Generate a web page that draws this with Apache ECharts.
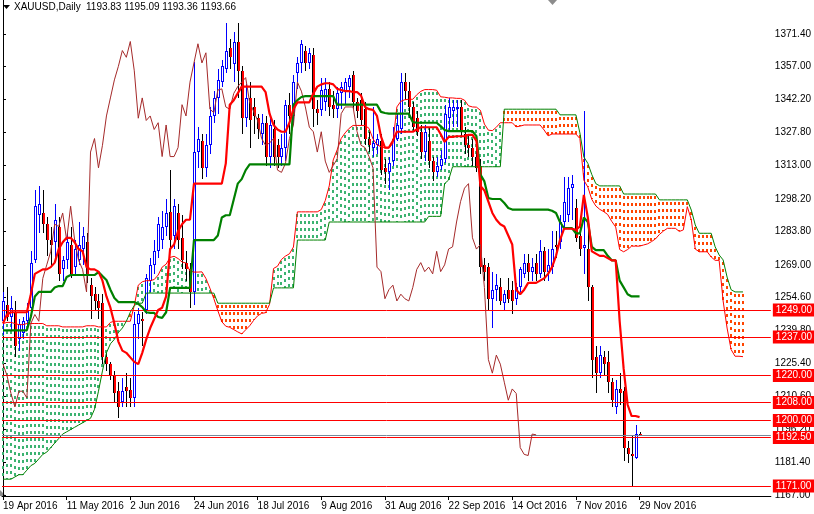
<!DOCTYPE html>
<html><head><meta charset="utf-8">
<script src="https://cdn.jsdelivr.net/npm/echarts@6/dist/echarts.min.js"></script>
<style>html,body{margin:0;padding:0;background:#fff}#c{width:814px;height:514px}</style>
</head><body><div id="c"></div><script>
// ---- data ----
const dateLabels = ['19 Apr 2016','11 May 2016','2 Jun 2016','24 Jun 2016','18 Jul 2016','9 Aug 2016','31 Aug 2016','22 Sep 2016','14 Oct 2016','7 Nov 2016','29 Nov 2016'];
const labelIdx = [0,16,32,48,64,80,96,112,128,144,160];
const priceTicks = [1167.00,1181.40,1196.20,1210.60,1225.40,1239.80,1254.60,1269.00,1283.80,1298.20,1313.00,1327.80,1342.20,1357.00,1371.40];
const levels = [1249.00,1237.00,1220.00,1208.00,1200.00,1192.50,1171.00];
const bidPrice = 1193.66;
const titleText = 'XAUUSD,Daily';
const titleValues = '1193.83 1195.09 1193.36 1193.66';

const opens = [1244,1251,1246,1248,1236,1239,1244,1250,1271,1291,
1292,1287,1280,1279,1286,1267,1271,1278,1268,1271,
1276,1279,1260,1256,1253,1252,1228,1225,1220,1213,
1208,1215,1213.5,1210,1243,1245,1249,1262,1269,1275,
1280,1286,1292.4,1282,1292,1281,1270,1267,1257,1319,
1324,1312,1322,1335,1343,1350,1356,1365,1358,1368,
1355,1334,1343,1339,1334,1327,1332,1317,1329,1322,
1317,1321,1340,1335,1354,1358.5,1364,1358.5,1362,1338,
1337.7,1341,1347,1340,1338,1345,1346,1348,1353,1341,
1342,1338,1325,1321,1322,1324,1312,1310,1315,1325,
1329,1350,1346,1339,1334,1328,1319,1324,1315,1310,
1313,1316,1334,1337,1338,1339,1327,1322,1321,1317,
1313,1269,1268,1254,1258,1259,1252,1258,1258,1254,
1259,1265,1270,1266,1270,1265,1275,1266,1268,1278,
1279,1288,1291,1303,1294,1282,1276.5,1276,1259,1228,
1221,1228,1226,1217,1206,1214,1213,1188,1185,1183.5,
1193.83];
const highs = [1257,1259,1255,1253,1245,1246,1252,1275,1302,1304,
1302,1290,1286,1296,1290,1273,1283,1286,1280,1288,
1286,1283,1263,1259,1256,1256,1230,1226,1222,1217,
1219,1221,1219,1248,1250,1248,1265,1272,1280,1290,
1293,1298,1311,1298,1296,1291,1275,1270,1359,1330,
1327,1327,1339,1346,1356,1360,1376,1369,1372,1376,
1357,1349,1350,1343,1336,1336,1335,1336,1333,1325,
1327,1342,1345,1353,1361,1368.5,1366,1365,1365,1342,
1352,1352,1350,1346,1348,1350,1352,1353,1355,1343,
1345,1341,1328,1339,1327,1327,1316,1317,1330,1336,
1354,1354,1350,1341,1337,1331,1331,1330,1317,1317,
1320,1340,1343,1342,1342,1342,1330,1326,1325,1324,
1316,1272,1270,1266,1265,1263,1258,1263,1262,1261,
1268,1274,1274,1272,1274,1280,1277,1276,1284,1284,
1291,1308,1308,1309,1298,1288,1337,1286,1260,1233,
1233,1231,1231,1219,1218,1221,1215,1191,1193,1198,
1195.09];
const lows = [1238,1244,1240,1228,1231,1236,1242,1248,1270,1283,
1283,1273,1268,1272,1262,1262,1267,1263,1265,1269,
1269,1261,1245,1249,1245,1225,1222,1218,1208,1201,
1206,1206,1206,1206,1236,1233,1247,1257,1265,1272,
1276,1282,1276,1276,1276,1267,1262,1250,1251,1312,
1307,1308,1318,1332,1336,1348,1354,1356,1350,1343,
1327,1330,1321,1327,1325,1322,1313,1312,1313,1312,
1313,1315,1327,1331,1347,1354,1355,1356,1330,1331,
1335,1337,1335,1334,1334,1338,1340,1343,1338,1334,
1331,1322,1319,1317,1318,1309,1305,1302,1313,1324,
1327,1342,1334,1328,1326,1316,1315,1312,1306,1308,
1311,1314,1328,1330,1330,1326,1318,1317,1313,1310,
1265,1262,1249,1241,1253,1251,1249,1252,1247,1251,
1257,1263,1262,1262,1262,1263,1262,1262,1265,1272,
1276,1286,1288,1289,1279,1273,1265,1253,1219,1212,
1219,1220,1212,1206,1203,1207,1182,1181,1171,1183,
1193.36];
const closes = [1253,1246,1250,1233,1243,1244,1249,1270,1295,1296,
1287,1280,1278,1289,1265,1271,1279,1264,1276,1278,
1282,1265,1255,1253,1250,1228,1225,1220,1212,1206,
1213,1213,1210,1243,1247,1244,1263,1269,1275,1287,
1286,1292,1280,1295,1280,1271,1267,1257,1319,1325,
1312,1322,1335,1343,1351,1357,1364,1361,1368,1355,
1334,1343,1333,1335,1329,1332,1317,1331,1317,1317,
1321,1340,1335,1350,1358.5,1367,1358.5,1363,1338,1336.5,
1346.5,1347,1339,1338,1345,1348,1350,1352,1341,1337,
1333,1325,1322,1323,1325,1311,1310,1314,1325,1331,
1350,1346,1339,1330,1328,1319,1328,1315,1310,1313,
1316,1336,1339,1339,1339,1328,1322,1321,1317,1312,
1268,1266,1254,1258,1260,1253,1256,1254,1253,1259,
1267,1270,1266,1268,1265,1275,1266,1269,1276,1277,
1288,1297,1303,1305,1281,1276,1278,1259,1227,1221,
1229,1225,1217,1209,1214,1212,1188,1185,1184.5,1194,
1193.66];

const tenkan = [1243,1247,1248,1248,1248,1248,1248,1256,1265,1266,
1267,1267,1268,1270,1276,1279,1281,1281,1279,1276,
1275,1268,1267,1267,1266,1262,1255,1250,1243,1235,
1231,1230,1228,1226,1225,1230,1236,1241,1245,1249,
1250,1255,1276,1278,1284,1287,1289,1289,1305,1305,
1305,1305,1305,1305,1305,1305,1314,1340,1342,1345,
1348,1348,1348,1348,1348,1348,1345.6,1336,1331,1329,
1328,1328,1332,1338,1341,1341,1341,1341,1345,1348,
1349,1349.5,1349.5,1349,1347,1346.5,1346,1346,1345.6,1345.6,
1344,1339,1338,1337.7,1335,1326,1321,1321,1324,1328,
1328,1328,1328,1328,1329,1330,1330,1330,1330,1330,
1327,1323.5,1325.7,1325.7,1326,1326,1326,1326.6,1326.6,1324,
1304,1302,1297,1292,1289,1287,1286,1282,1278,1258,
1256,1258,1261,1261,1261,1262,1263,1265,1268,1273,
1280,1285,1285,1285,1284.5,1286,1300,1290,1275,1274,
1273,1273,1272,1271,1271,1244,1223,1207,1202,1202,
1201.5];
const kijun = [1240,1240,1240,1240,1240,1240,1240,1246,1255,1257,
1257,1257,1257,1259,1259.6,1259.6,1263.6,1264.5,1264.5,1264.5,
1264.5,1264.5,1264.5,1264.5,1265.8,1264,1262.3,1258,1254.3,1252.5,
1252.5,1252.5,1252.5,1252.5,1251.7,1250.3,1248,1247.7,1247.7,1245.9,
1245.5,1248,1258.8,1258.8,1258.8,1258.8,1258.8,1258.8,1280,1280,
1280,1280,1280,1280,1282,1290,1291,1291,1298,1305,
1307,1311,1313.5,1313.5,1313.5,1313.5,1313.5,1313.5,1313.5,1313.5,
1313.5,1313.5,1313.5,1340,1342,1343.4,1343.8,1343.8,1343.8,1343.8,
1343.8,1343.8,1343.8,1343.8,1340,1340,1340,1340,1340,1340,
1340,1340,1340,1340,1340,1336.8,1336.3,1336,1336,1336,
1336,1336,1336,1332.3,1332,1332,1332,1332,1332,1332,
1330.5,1328.8,1328.3,1328.3,1328.3,1328.3,1328.3,1328.3,1328.3,1326,
1309,1306,1298.6,1298.2,1298.2,1298.2,1296.4,1294.2,1293.5,1293.5,
1293.5,1293.5,1293.5,1293.5,1293.5,1293.5,1293.5,1293.5,1293,1292,
1288,1285.3,1285.3,1285.3,1283,1283,1290,1288,1277,1275.5,
1275.5,1275.5,1273,1271,1271,1262,1259,1256,1255,1255,
1255];
const spanA = [1243,1243.5,1243.5,1243,1242.5,1242.5,1243,1243,1243,1243,
1243,1242,1242,1242,1242,1241.5,1241.5,1241.5,1241.5,1241.5,
1241.5,1242,1242,1242,1241.5,1241.5,1241.5,1243.5,1244,1244,
1244,1244,1244,1251,1260,1261.5,1262,1262,1262.5,1264.5,
1268,1269.3,1272.3,1272.8,1271.8,1270.3,1269.8,1266.3,1265.8,1265.8,
1265.9,1263,1258.7,1254,1248.7,1243.8,1241.8,1241.3,1240.3,1239.3,
1238.4,1240.2,1242,1244.4,1246.4,1247.5,1247.8,1251.5,1267.4,1268.4,
1271.4,1272.9,1273.9,1276.9,1292.5,1292.5,1292.5,1292.5,1292.5,1292.5,
1293.5,1297.5,1304,1315.5,1320,1325,1327.5,1329.5,1330.8,1330.8,
1330.8,1330.8,1329.5,1324.8,1322.3,1321.3,1320.8,1320.8,1322.8,1339,
1341.5,1342.2,1342.4,1342.4,1344.4,1345.9,1346.7,1346.7,1346.7,1346.4,
1343.5,1343.3,1343,1343,1342.8,1342.8,1342,1339.5,1339,1338.9,
1337.5,1331.4,1328.7,1328.5,1330,1332,1332,1332,1332,1330.2,
1330.5,1331,1331,1331,1331,1331,1328.8,1326.2,1327,1327,
1327,1327,1327,1327,1327,1325,1306.5,1303.5,1298,1295.1,
1293.6,1292.6,1291.3,1288.3,1285.8,1275.8,1274.8,1275.8,1277.3,1277.3,
1277.3,1277.8,1278.3,1279.3,1280.5,1282.5,1284,1285.2,1285.2,1285.2,
1283.8,1284.5,1294.8,1289,1276,1274.8,1274.8,1274.8,1272.5,1271,
1271,1253,1241,1231.5,1228.5,1228.5,1228.3];
const spanB = [1174,1174,1174,1175,1176,1176,1178,1180,1181,1183,
1185,1186,1188,1190,1192,1194,1195,1196,1197,1198,
1199,1200,1201,1205,1213,1222,1230,1234,1236,1239,
1241,1244,1248,1251,1252,1252,1256.5,1256.5,1256.5,1256.5,
1256.5,1256.5,1256.5,1256.5,1256.5,1256.5,1256.5,1256.5,1256.5,1256.5,
1256.5,1256.5,1256.5,1256.5,1252,1252,1252,1252,1252,1252,
1252,1252,1252,1252,1252,1252,1252,1252,1258.8,1258.8,
1258.8,1258.8,1258.8,1258.8,1280,1280,1280,1280,1280,1280,
1280,1280,1288,1288,1288,1288,1288,1288,1288,1288,
1288,1288,1288,1288,1288,1288,1288,1288,1288,1288,
1288,1288,1288,1288,1288,1288,1288,1290.5,1290.5,1290.5,
1290.5,1305,1306.6,1312.5,1312.5,1312.5,1312.5,1312.5,1312.5,1312.5,
1312.5,1312.5,1312.5,1312.5,1312.5,1312.5,1338,1338,1338,1338,
1338,1338,1338,1338,1338,1338,1338,1338,1338,1338,
1335.5,1335.5,1335.5,1335.5,1335.5,1327.5,1316.8,1314,1309,1305,
1304,1304,1304,1304,1304,1304,1300.4,1300.4,1300.4,1300.4,
1300.4,1300.4,1300.4,1300.4,1300.4,1297.8,1297.8,1297.8,1297.8,1297.8,
1297.8,1297.8,1297.8,1293.3,1286.7,1283,1283,1283,1283,1277,
1273.4,1271.2,1263.6,1258,1257,1257,1257];
const chikouShift = 26;

// ---- chart ----
const chart = echarts.init(document.getElementById('c'), null, {renderer: 'canvas'});
const FONT = 'Liberation Sans, Arial, sans-serif';

function renderCandle(params, api) {
  const i = api.value(0), o = api.value(1), h = api.value(2), l = api.value(3), c = api.value(4);
  const pH = api.coord([i, h]), pL = api.coord([i, l]), pO = api.coord([i, o]), pC = api.coord([i, c]);
  const cx = Math.round(pH[0]);
  const bull = c >= o;
  const top = Math.round(Math.min(pO[1], pC[1]));
  const bot = Math.max(Math.round(Math.max(pO[1], pC[1])), top + 1);
  const yH = Math.round(pH[1]), yL = Math.round(pL[1]);
  const kids = [];
  kids.push({type: 'rect', shape: {x: cx, y: yH, width: 1, height: Math.max(1, yL - yH)},
    style: {fill: bull ? '#0000ff' : '#000000'}});
  if (bull) {
    kids.push({type: 'rect', shape: {x: cx - 1, y: top, width: 3, height: bot - top}, style: {fill: '#0000ff'}});
    if (bot - top > 2) kids.push({type: 'rect', shape: {x: cx, y: top + 1, width: 1, height: bot - top - 2}, style: {fill: '#ffffff'}});
  } else {
    kids.push({type: 'rect', shape: {x: cx - 1, y: top, width: 3, height: bot - top}, style: {fill: '#ff0000'}});
    kids.push({type: 'rect', shape: {x: cx - 1, y: top, width: 1, height: bot - top}, style: {fill: '#000000'}});
  }
  return {type: 'group', children: kids};
}

// dotted histogram between the two spans (MT4 style), drawn as crisp dashes
function renderHatch(params, api) {
  const i = api.value(0), a = api.value(1), b = api.value(2);
  const p1 = api.coord([i, a]), p2 = api.coord([i, b]);
  const x = Math.round(p1[0]) - 1;
  const y1 = Math.round(Math.min(p1[1], p2[1])), y2 = Math.round(Math.max(p1[1], p2[1]));
  const col = a >= b ? '#3cb371' : '#ff4500';
  const kids = [];
  for (let y = y1 + 2; y < y2; y += 7) {
    kids.push({type: 'rect', shape: {x: x, y: y, width: 2, height: Math.min(3, y2 - y)}, style: {fill: col}});
  }
  return {type: 'group', children: kids};
}

const toXY = arr => arr.map((v, i) => [i, v]);

const option = {
  animation: false,
  backgroundColor: '#ffffff',
  textStyle: {fontFamily: FONT},
  grid: {left: 0, right: 41, top: 0, bottom: 18, containLabel: false},
  xAxis: {
    type: 'value', min: -0.25, max: 193,
    axisLine: {show: true, onZero: false, lineStyle: {color: '#000', width: 1}},
    axisTick: {show: true, length: 4, customValues: labelIdx, lineStyle: {color: '#000'}},
    axisLabel: {show: true, customValues: labelIdx, align: 'left', margin: 5, fontSize: 10, color: '#000', fontFamily: FONT,
      formatter: v => { const k = labelIdx.indexOf(Math.round(v)); return k >= 0 ? dateLabels[k] : ''; }},
    splitLine: {show: false}
  },
  yAxis: {
    type: 'value', position: 'right', min: 1166.55, max: 1386.4,
    axisLine: {show: true, lineStyle: {color: '#000', width: 1}},
    axisTick: {show: true, length: 3, customValues: priceTicks, lineStyle: {color: '#000'}},
    axisLabel: {show: true, customValues: priceTicks, margin: 4, fontSize: 10, color: '#000', fontFamily: FONT,
      formatter: v => v.toFixed(2)},
    splitLine: {show: false}
  },
  graphic: [
    {type: 'polygon', shape: {points: [[3, 5], [10, 5], [6.5, 9]]}, style: {fill: '#000'}},
    {type: 'text', left: 14, top: 2, style: {text: titleText, font: '10px ' + FONT, fill: '#000'}},
    {type: 'text', left: 86, top: 2, style: {text: titleValues, font: '10px ' + FONT, fill: '#000'}},
    {type: 'polygon', shape: {points: [[548, 0], [557, 0], [552.5, 5]]}, style: {fill: '#8c8c8c'}},
    {type: 'polygon', shape: {points: [[0, 490], [6, 496], [0, 496]]}, style: {fill: '#8c8c8c'}}
  ],
  series: [
    {name: 'cloud', type: 'custom', z: 1, renderItem: renderHatch, clip: true,
      data: spanA.map((a, i) => [i, a, spanB[i]]), encode: {x: 0, y: [1, 2]}},
    {name: 'levels', type: 'line', z: 2, data: [], silent: true,
      markLine: {symbol: ['none', 'none'], silent: true, animation: false,
        lineStyle: {color: '#ff0000', width: 1, type: 'solid'},
        label: {show: true, position: 'end', distance: 2, formatter: p => Number(p.value).toFixed(2),
          color: '#ffffff', backgroundColor: '#ff0000', padding: [2, 3, 1, 3], fontSize: 10, fontFamily: FONT},
        data: levels.map(v => ({yAxis: v})).concat([{yAxis: bidPrice, lineStyle: {color: '#778899', width: 1, type: 'solid'}, label: {show: false}}])
      }},
    {name: 'candles', type: 'custom', z: 3, renderItem: renderCandle, clip: true,
      data: opens.map((o, i) => [i, o, highs[i], lows[i], closes[i]]), encode: {x: 0, y: [1, 2, 3, 4]}},
    {name: 'spanA', type: 'line', z: 4, data: toXY(spanA), symbol: 'none', lineStyle: {color: '#ff0000', width: 1}},
    {name: 'spanB', type: 'line', z: 4, data: toXY(spanB), symbol: 'none', lineStyle: {color: '#008000', width: 1}},
    {name: 'chikou', type: 'line', z: 5, data: closes.slice(chikouShift).map((v, i) => [i, v]), symbol: 'none', lineStyle: {color: '#a52a2a', width: 1}},
    {name: 'kijun', type: 'line', z: 6, data: toXY(kijun), symbol: 'none', lineStyle: {color: '#008000', width: 2.2}},
    {name: 'tenkan', type: 'line', z: 7, data: toXY(tenkan), symbol: 'none', lineStyle: {color: '#ff0000', width: 2.2}}
  ]
};
chart.setOption(option);
</script></body></html>
